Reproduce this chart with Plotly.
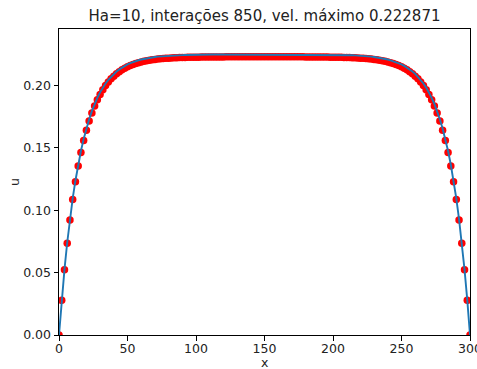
import plotly.graph_objects as go

title = "Ha=10, interações 850, vel. máximo 0.222871"
x_label = "x"
y_label = "u"

x_vals = list(range(0, 301, 2))

u_num = [
    0.0000, 0.0278, 0.0522, 0.0735, 0.0921, 0.1085, 0.1228, 0.1353, 0.1462, 0.1558,
    0.1641, 0.1715, 0.1779, 0.1835, 0.1884, 0.1927, 0.1965, 0.1998, 0.2027, 0.2052,
    0.2074, 0.2093, 0.2110, 0.2125, 0.2138, 0.2149, 0.2159, 0.2168, 0.2176, 0.2182,
    0.2188, 0.2193, 0.2198, 0.2202, 0.2205, 0.2208, 0.2211, 0.2213, 0.2215, 0.2217,
    0.2218, 0.2220, 0.2221, 0.2222, 0.2223, 0.2224, 0.2224, 0.2225, 0.2225, 0.2226,
    0.2226, 0.2226, 0.2227, 0.2227, 0.2227, 0.2228, 0.2228, 0.2228, 0.2228, 0.2228,
    0.2228, 0.2229, 0.2229, 0.2229, 0.2229, 0.2229, 0.2229, 0.2229, 0.2229, 0.2229,
    0.2229, 0.2229, 0.2229, 0.2229, 0.2229, 0.2229,
    0.2229, 0.2229, 0.2229, 0.2229, 0.2229, 0.2229, 0.2229, 0.2229, 0.2229, 0.2229,
    0.2229, 0.2229, 0.2229, 0.2229, 0.2228, 0.2228, 0.2228, 0.2228, 0.2228, 0.2228,
    0.2227, 0.2227, 0.2227, 0.2226, 0.2226, 0.2226, 0.2225, 0.2225, 0.2224, 0.2224,
    0.2223, 0.2222, 0.2221, 0.2220, 0.2218, 0.2217, 0.2215, 0.2213, 0.2211, 0.2208,
    0.2205, 0.2202, 0.2198, 0.2193, 0.2188, 0.2182, 0.2176, 0.2168, 0.2159, 0.2149,
    0.2138, 0.2125, 0.2110, 0.2093, 0.2074, 0.2052, 0.2027, 0.1998, 0.1965, 0.1927,
    0.1884, 0.1835, 0.1779, 0.1715, 0.1641, 0.1558, 0.1462, 0.1353, 0.1228, 0.1085,
    0.0921, 0.0735, 0.0522, 0.0278, 0.0000,
]

u_ana = [
    0.0000, 0.0281, 0.0526, 0.0741, 0.0929, 0.1094, 0.1238, 0.1364, 0.1474, 0.1571,
    0.1655, 0.1729, 0.1794, 0.1851, 0.1900, 0.1944, 0.1982, 0.2015, 0.2044, 0.2069,
    0.2092, 0.2111, 0.2128, 0.2143, 0.2156, 0.2168, 0.2178, 0.2187, 0.2194, 0.2201,
    0.2207, 0.2212, 0.2217, 0.2220, 0.2224, 0.2227, 0.2230, 0.2232, 0.2234, 0.2236,
    0.2237, 0.2239, 0.2240, 0.2241, 0.2242, 0.2242, 0.2243, 0.2244, 0.2244, 0.2245,
    0.2245, 0.2245, 0.2246, 0.2246, 0.2246, 0.2246, 0.2247, 0.2247, 0.2247, 0.2247,
    0.2247, 0.2247, 0.2247, 0.2247, 0.2247, 0.2247, 0.2247, 0.2247, 0.2247, 0.2247,
    0.2247, 0.2247, 0.2247, 0.2247, 0.2247, 0.2247,
    0.2247, 0.2247, 0.2247, 0.2247, 0.2247, 0.2247, 0.2247, 0.2247, 0.2247, 0.2247,
    0.2247, 0.2247, 0.2247, 0.2247, 0.2247, 0.2247, 0.2247, 0.2247, 0.2247, 0.2246,
    0.2246, 0.2246, 0.2246, 0.2245, 0.2245, 0.2245, 0.2244, 0.2244, 0.2243, 0.2242,
    0.2242, 0.2241, 0.2240, 0.2239, 0.2237, 0.2236, 0.2234, 0.2232, 0.2230, 0.2227,
    0.2224, 0.2220, 0.2217, 0.2212, 0.2207, 0.2201, 0.2194, 0.2187, 0.2178, 0.2168,
    0.2156, 0.2143, 0.2128, 0.2111, 0.2092, 0.2069, 0.2044, 0.2015, 0.1982, 0.1944,
    0.1900, 0.1851, 0.1794, 0.1729, 0.1655, 0.1571, 0.1474, 0.1364, 0.1238, 0.1094,
    0.0929, 0.0741, 0.0526, 0.0281, 0.0000,
]

x_ticks = [0, 50, 100, 150, 200, 250, 300]
y_ticks = [0.00, 0.05, 0.10, 0.15, 0.20]
y_max = 0.222871 * 1.1

font = "DejaVu Sans"
W, H = 477, 369

fig = go.Figure()
fig.add_trace(go.Scatter(
    x=x_vals, y=u_num, mode="markers",
    marker=dict(color="#ff0000", size=7.5, line=dict(width=0)),
    showlegend=False, cliponaxis=True,
))
fig.add_trace(go.Scatter(
    x=x_vals, y=u_ana, mode="lines",
    line=dict(color="#1f77b4", width=1.9),
    showlegend=False,
))

axis_common = dict(
    showline=True, linecolor="black", linewidth=1, mirror=True,
    ticks="outside", ticklen=4.5, tickwidth=1, tickcolor="black",
    showgrid=False, zeroline=False, automargin=False,
    ticklabeloverflow="allow",
    tickfont=dict(family=font, size=12.5, color="#222222"),
)

fig.update_layout(
    width=W, height=H,
    margin=dict(l=59, r=7, t=29, b=34),
    paper_bgcolor="white", plot_bgcolor="white",
    title=dict(text=title, x=264.5 / W, xanchor="center",
               y=1 - 16 / H, yanchor="middle",
               font=dict(family=font, size=15, color="#222222")),
    xaxis=dict(range=[0, 300], tickvals=x_ticks, ticklabelstandoff=-3,
               ticktext=[str(v) for v in x_ticks], **axis_common),
    yaxis=dict(range=[0, y_max], tickvals=y_ticks,
               ticktext=[f"{v:.2f}" for v in y_ticks], **axis_common),
    annotations=[
        dict(text=x_label, xref="paper", yref="paper",
             x=0.5, y=-(363 - 335) / (335 - 29), xanchor="center", yanchor="middle",
             showarrow=False, font=dict(family=font, size=12.5, color="#222222")),
        dict(text=y_label, xref="paper", yref="paper", textangle=-90,
             x=-(59 - 14) / (470 - 59), y=0.5, xanchor="center", yanchor="middle",
             showarrow=False, font=dict(family=font, size=12.5, color="#222222")),
    ],
)

fig.write_html("out.html")
